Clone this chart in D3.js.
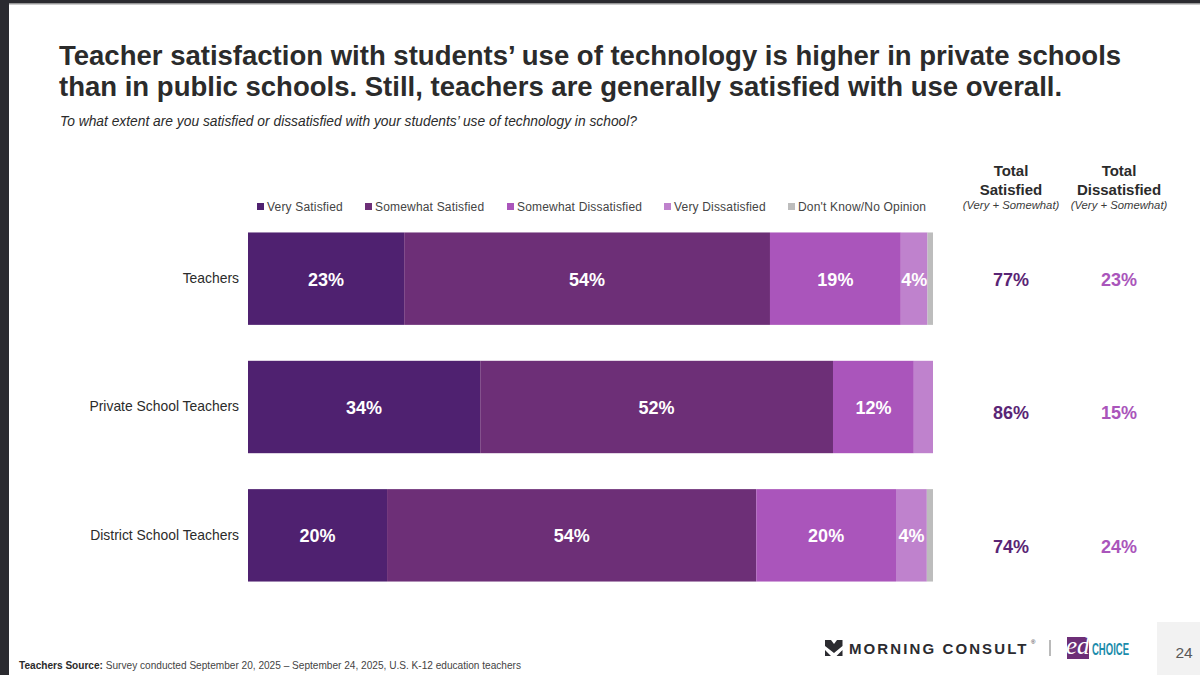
<!DOCTYPE html>
<html lang="en">
<head>
<meta charset="UTF-8">
<title>Teacher satisfaction</title>
<script src="https://d3js.org/d3.v7.min.js"></script>
<style>
    html, body { margin: 0; padding: 0; background: #fff; }
    svg { display: block; font-family: "Liberation Sans", Arial, sans-serif; }
</style>
</head>
<body>
<svg width="1200" height="675" viewBox="0 0 1200 675"></svg>
<script>
// Data
const groups = ["Teachers", "Private School Teachers", "District School Teachers"];
const answers = ["Very Satisfied", "Somewhat Satisfied", "Somewhat Dissatisfied", "Very Dissatisfied", "Don't Know/No Opinion"];
const verySatisfied = [22.8, 33.9, 20.3];
const somewhatSatisfied = [53.4, 51.5, 53.9];
const somewhatDissatisfied = [19.1, 11.8, 20.4];
const veryDissatisfied = [3.9, 2.8, 4.5];
const dontKnow = [0.8, 0, 0.9];
// printed labels, blank where the slide has none
const barLabels = [
    ["23%", "54%", "19%", "4%", ""],
    ["34%", "52%", "12%", "", ""],
    ["20%", "54%", "20%", "4%", ""]
];
const totalSatisfied = ["77%", "86%", "74%"];
const totalDissatisfied = ["23%", "15%", "24%"];
const colors = ["#4f2170", "#6d2f77", "#aa55bb", "#bf82cd", "#bdbdbd"];

const seriesValues = [verySatisfied, somewhatSatisfied, somewhatDissatisfied, veryDissatisfied, dontKnow];
const rows = groups.map((g, i) => {
    const row = { group: g };
    answers.forEach((a, j) => { row[a] = seriesValues[j][i]; });
    return row;
});

const svg = d3.select("svg");
const ink = "#2b2b2b";

// slide frame
svg.append("rect").attr("x", 0).attr("y", 0).attr("width", 1200).attr("height", 3.5).attr("fill", "#2b2b30");
svg.append("rect").attr("x", 0).attr("y", 3.5).attr("width", 1200).attr("height", 1).attr("fill", "#9a9a9a");
svg.append("rect").attr("x", 0).attr("y", 0).attr("width", 9).attr("height", 675).attr("fill", "#2b2b30");

// title
svg.append("text").attr("x", 59).attr("y", 65).attr("font-size", 27.53).attr("font-weight", 700).attr("fill", ink)
    .text("Teacher satisfaction with students’ use of technology is higher in private schools");
svg.append("text").attr("x", 59).attr("y", 96).attr("font-size", 27.53).attr("font-weight", 700).attr("fill", ink)
    .text("than in public schools. Still, teachers are generally satisfied with use overall.");
svg.append("text").attr("x", 60).attr("y", 126).attr("font-size", 13.8).attr("font-style", "italic").attr("fill", ink)
    .text("To what extent are you satisfied or dissatisfied with your students’ use of technology in school?");

// scales
const x = d3.scaleLinear().domain([0, 100]).range([248, 933]);
const y = d3.scaleBand().domain(groups).range([214.5, 599.5]).paddingInner(0.28).paddingOuter(0.14);
const color = d3.scaleOrdinal().domain(answers).range(colors);

// stacked bars
const stacked = d3.stack().keys(answers)(rows);
const layer = svg.append("g").selectAll("g").data(stacked).enter().append("g")
    .attr("fill", d => color(d.key));
layer.selectAll("rect").data(d => d).enter().append("rect")
    .attr("x", d => x(d[0]))
    .attr("y", d => y(d.data.group))
    .attr("width", d => x(d[1]) - x(d[0]))
    .attr("height", y.bandwidth());

// bar labels
layer.each(function(s, j) {
    d3.select(this).selectAll("text").data(s).enter().append("text")
        .attr("x", d => (x(d[0]) + x(d[1])) / 2)
        .attr("y", d => y(d.data.group) + y.bandwidth() / 2 + 7)
        .attr("text-anchor", "middle")
        .attr("font-size", 18)
        .attr("font-weight", 700)
        .attr("fill", "#fff")
        .text((d, i) => barLabels[i][j]);
});

// category labels, the slide has them right aligned by hand
const yAxis = d3.axisLeft(y).tickSize(0).tickPadding(9);
const yAxisG = svg.append("g").attr("transform", "translate(248,0)").call(yAxis);
yAxisG.select(".domain").remove();
yAxisG.selectAll("text").attr("font-size", 13.9).attr("font-family", "Liberation Sans").attr("fill", ink);

// legend
const legendX = [257, 365, 507, 664, 788];
const legend = svg.append("g").selectAll("g").data(answers).enter().append("g")
    .attr("transform", (d, i) => `translate(${legendX[i]},207)`);
legend.append("rect").attr("x", 0).attr("y", -4).attr("width", 7).attr("height", 7).attr("fill", d => color(d));
legend.append("text").attr("x", 10).attr("y", 4).attr("font-size", 12).attr("letter-spacing", 0.18)
    .attr("fill", "#444").text(d => d);

// totals columns
const totalColumns = [
    { cx: 1011, head: ["Total", "Satisfied"], values: totalSatisfied, fill: "#5a2575" },
    { cx: 1119, head: ["Total", "Dissatisfied"], values: totalDissatisfied, fill: "#aa55bb" }
];
const totalOffsets = [7, 12, 18];
totalColumns.forEach(c => {
    const g = svg.append("g").attr("text-anchor", "middle");
    g.append("text").attr("x", c.cx).attr("y", 176).attr("font-size", 15).attr("font-weight", 700).attr("fill", ink).text(c.head[0]);
    g.append("text").attr("x", c.cx).attr("y", 195).attr("font-size", 15).attr("font-weight", 700).attr("fill", ink).text(c.head[1]);
    g.append("text").attr("x", c.cx).attr("y", 209).attr("font-size", 11.3).attr("font-style", "italic").attr("fill", "#3a3a3a").text("(Very + Somewhat)");
    g.selectAll(".total").data(c.values).enter().append("text")
        .attr("class", "total")
        .attr("x", c.cx)
        .attr("y", (d, i) => y(groups[i]) + y.bandwidth() / 2 + totalOffsets[i])
        .attr("font-size", 18)
        .attr("font-weight", 700)
        .attr("fill", c.fill)
        .text(d => d);
});

// source
const source = svg.append("text").attr("x", 19).attr("y", 669).attr("font-size", 10.1).attr("fill", "#444");
source.append("tspan").attr("font-weight", 700).attr("fill", "#2b2b2b").text("Teachers Source:");
source.append("tspan").text(" Survey conducted September 20, 2025 – September 24, 2025, U.S. K-12 education teachers");

// logos
const logo = svg.append("g");
logo.append("path").attr("fill", "#2b2b30")
    .attr("d", "M825 640 L831 640 L834 644 L837 640 L842.5 640 L842.5 646 L834 653 L825 646 Z M825 650 L831 656 L825 656 Z M842.5 650 L842.5 656 L836.5 656 Z");
logo.append("text").attr("x", 849).attr("y", 653.5).attr("font-size", 15).attr("font-weight", 700)
    .attr("letter-spacing", 2.1).attr("fill", "#2b2b30").text("MORNING CONSULT");
logo.append("text").attr("x", 1031).attr("y", 644).attr("font-size", 6).attr("fill", "#2b2b30").text("®");
logo.append("rect").attr("x", 1049.5).attr("y", 640).attr("width", 1).attr("height", 16).attr("fill", "#777");
logo.append("rect").attr("x", 1067).attr("y", 637).attr("width", 22).attr("height", 22).attr("fill", "#6d2f77");
logo.append("text").attr("x", 1066).attr("y", 654).attr("font-size", 25).attr("font-style", "italic")
    .attr("font-family", "Liberation Serif").attr("fill", "#fff").text("ed");
logo.append("text").attr("x", 1092).attr("y", 655).attr("font-size", 16).attr("font-weight", 700)
    .attr("textLength", 37).attr("lengthAdjust", "spacingAndGlyphs").attr("fill", "#1b8cab").text("CHOICE");

// page number
svg.append("rect").attr("x", 1157).attr("y", 622).attr("width", 43).attr("height", 53).attr("fill", "#f2f2f2");
svg.append("text").attr("x", 1184).attr("y", 658).attr("text-anchor", "middle").attr("font-size", 15.5).attr("fill", "#595959").text("24");
</script>
</body>
</html>
